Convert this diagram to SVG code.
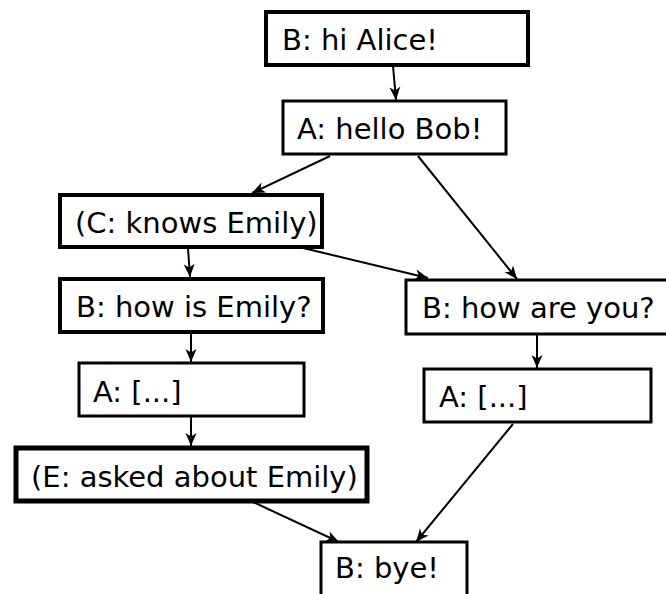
<svg xmlns="http://www.w3.org/2000/svg" width="666" height="594" viewBox="0 0 666 594">
<style>
.box{fill:#fff;stroke:#000}
.t{font-family:"DejaVu Sans",sans-serif;font-size:29px;fill:#000}
.c line{stroke:#000;stroke-width:2;marker-end:url(#ah)}
</style>
<defs>
<marker id="ah" markerUnits="userSpaceOnUse" markerWidth="16" markerHeight="14" viewBox="-14 -7 16 14" refX="0" refY="0" orient="auto">
<path d="M0,0 L-13,-5.5 L-9.5,0 L-13,5.5 Z" fill="#000"/>
</marker>
</defs>
<rect width="666" height="594" fill="#fff"/>
<g class="c" id="connectors">
<line x1="393" y1="66" x2="396" y2="100"/>
<line x1="330" y1="156" x2="252" y2="193"/>
<line x1="418" y1="156" x2="517" y2="279"/>
<line x1="188" y1="248" x2="190" y2="277"/>
<line x1="303" y1="248" x2="428" y2="278"/>
<line x1="191" y1="333" x2="191" y2="362"/>
<line x1="537" y1="335" x2="537" y2="368"/>
<line x1="191" y1="417" x2="191" y2="446"/>
<line x1="253" y1="502" x2="339" y2="542"/>
<line x1="513" y1="424" x2="416" y2="542"/>
</g>
<g id="n1"><rect class="box" x="266" y="12" width="262" height="53" stroke-width="4"/><text class="t" x="282" y="50">B: hi Alice!</text></g>
<g id="n2"><rect class="box" x="283" y="101" width="223" height="53" stroke-width="3"/><text class="t" x="297" y="139">A: hello Bob!</text></g>
<g id="n3"><rect class="box" x="60" y="195" width="262" height="52" stroke-width="4"/><text class="t" x="75" y="233">(C: knows Emily)</text></g>
<g id="n4"><rect class="box" x="60" y="279" width="263" height="53" stroke-width="4"/><text class="t" x="76" y="317">B: how is Emily?</text></g>
<g id="n5"><rect class="box" x="406" y="280" width="270" height="54" stroke-width="3"/><text class="t" x="422" y="318">B: how are you?</text></g>
<g id="n6"><rect class="box" x="424" y="369" width="227" height="53" stroke-width="3"/><text class="t" x="439" y="407">A: [...]</text></g>
<g id="n7"><rect class="box" x="79" y="363" width="225" height="53" stroke-width="3"/><text class="t" x="93" y="402">A: [...]</text></g>
<g id="n8"><rect class="box" x="16" y="448" width="351" height="53" stroke-width="5"/><text class="t" x="31" y="487">(E: asked about Emily)</text></g>
<g id="n9"><rect class="box" x="321" y="542" width="146" height="70" stroke-width="3"/><text class="t" x="335" y="578">B: bye!</text></g>
</svg>
